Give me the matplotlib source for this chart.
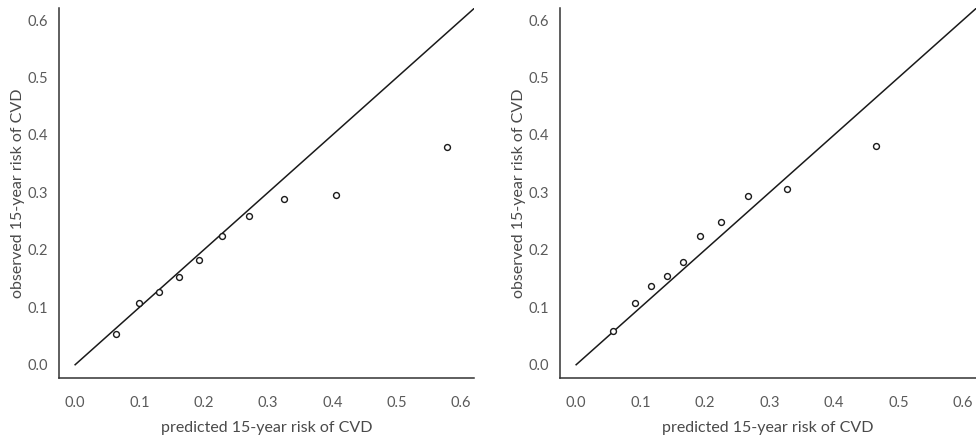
import matplotlib
matplotlib.use("Agg")
import matplotlib.pyplot as plt

# ── Data ──────────────────────────────────────────────────────────────────────

left_pred = [0.063, 0.100, 0.131, 0.161, 0.193, 0.228, 0.270, 0.324, 0.405, 0.578]
left_obs  = [0.053, 0.107, 0.127, 0.152, 0.183, 0.224, 0.258, 0.289, 0.296, 0.379]

right_pred = [0.057, 0.091, 0.116, 0.141, 0.165, 0.192, 0.225, 0.266, 0.327, 0.465]
right_obs  = [0.059, 0.107, 0.137, 0.154, 0.178, 0.224, 0.249, 0.294, 0.306, 0.380]

ticks = [0.0, 0.1, 0.2, 0.3, 0.4, 0.5, 0.6]
tick_labels = ["0.0", "0.1", "0.2", "0.3", "0.4", "0.5", "0.6"]
diag = [0.0, 0.62]

xlabel = "predicted 15-year risk of CVD"
ylabel = "observed 15-year risk of CVD"

plt.rcParams["font.family"] = ["Lato", "DejaVu Sans"]

fig = plt.figure(figsize=(9.76, 4.41), dpi=100)
ax_l = fig.add_axes([0.0605, 0.143, 0.4252, 0.839])
ax_r = fig.add_axes([0.5738, 0.143, 0.4262, 0.839])

for ax, xs, ys in [(ax_l, left_pred, left_obs), (ax_r, right_pred, right_obs)]:
    ax.plot(diag, diag, color="#1a1a1a", lw=1.1)
    ax.scatter(xs, ys, s=18, facecolors="white", edgecolors="#1a1a1a",
               linewidths=1.0, zorder=3)
    ax.set_xlim(-0.025, 0.62)
    ax.set_ylim(-0.023, 0.621)
    for side in ("top", "right"):
        ax.spines[side].set_visible(False)
    for side in ("left", "bottom"):
        ax.spines[side].set_color("#333333")
        ax.spines[side].set_linewidth(1.1)
    ax.set_xticks(ticks)
    ax.set_xticklabels(tick_labels)
    ax.set_yticks(ticks)
    ax.set_yticklabels(tick_labels)
    ax.tick_params(axis="x", length=0, pad=13, labelsize=10.5, labelcolor="#5a5a5a")
    ax.tick_params(axis="y", length=0, pad=8, labelsize=10.5, labelcolor="#5a5a5a")
    ax.set_xlabel(xlabel, fontsize=11.5, color="#4a4a4a", labelpad=8)
    ax.set_ylabel(ylabel, fontsize=11.5, color="#4a4a4a", labelpad=2)

fig.savefig("out.png", dpi=100)
